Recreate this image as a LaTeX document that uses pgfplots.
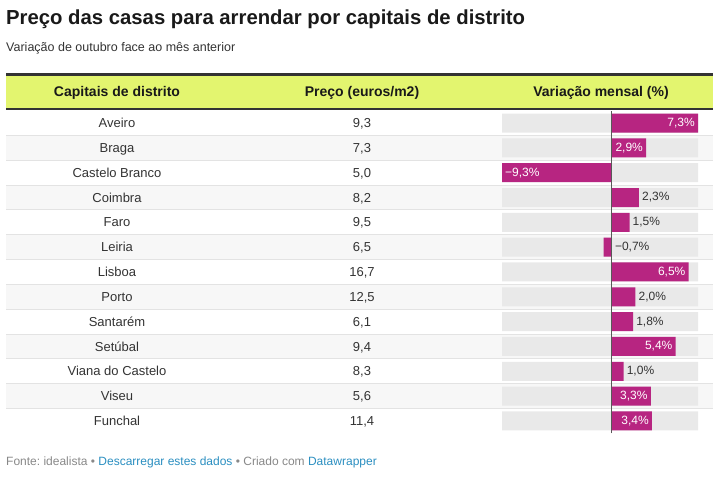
\documentclass[border=0pt]{standalone}
\usepackage{pgfplots}
\pgfplotsset{compat=1.18}
\usepackage{fontspec}
\setmainfont{Liberation Sans}
\frenchspacing
\definecolor{barc}{HTML}{B72581}
\definecolor{hdr}{HTML}{E3F56F}
\definecolor{rowg}{HTML}{F7F7F7}
\definecolor{sepc}{HTML}{E3E3E3}
\definecolor{bargray}{HTML}{E9E9E9}
\definecolor{txt}{HTML}{333333}
\definecolor{foot}{HTML}{888888}
\definecolor{link}{HTML}{2A8EC0}
\definecolor{rule}{HTML}{333333}
\pgfplotstableread{
y v
13 7.3
12 2.9
11 -9.3
10 2.3
9 1.5
8 -0.7
7 6.5
6 2.0
5 1.8
4 5.4
3 1.0
2 3.3
1 3.4
}\vardata
\begin{document}
\begin{tikzpicture}[x=1pt,y=1pt,
  lin/.style={font=\fontsize{12}{14}\selectfont, text=white, inner sep=0pt},
  lout/.style={font=\fontsize{12}{14}\selectfont, text=txt, inner sep=0pt}]
\useasboundingbox (0,0) rectangle (719,476);
% title
\node[anchor=base west,inner sep=0pt] at (6,{476-25}) {\fontsize{20.3}{24}\selectfont\bfseries\color{black!90}Preço das casas para arrendar por capitais de distrito};
\node[anchor=base west,inner sep=0pt] at (6,{476-52}) {\fontsize{12.5}{15}\selectfont\color{txt}Variação de outubro face ao mês anterior};
% header
\fill[hdr] (6,{476-75}) rectangle (713,{476-109});
\draw[rule,line width=3pt] (6,{476-75}) -- (713,{476-75});
\draw[rule,line width=2pt] (6,{476-109.5}) -- (713,{476-109.5});
\node[anchor=base,inner sep=0pt] at (117,{476-97}) {\fontsize{14}{16}\selectfont\bfseries\color{black!90}Capitais de distrito};
\node[anchor=base,inner sep=0pt] at (362,{476-97}) {\fontsize{14}{16}\selectfont\bfseries\color{black!90}Preço (euros/m2)};
\node[anchor=base,inner sep=0pt] at (601,{476-97}) {\fontsize{14}{16}\selectfont\bfseries\color{black!90}Variação mensal (\%)};
% row backgrounds
\foreach \i in {1,3,5,7,9,11}
  \fill[rowg] (6,{476-110.6-24.83*\i}) rectangle (713,{476-110.6-24.83*(\i+1)});
\foreach \i in {1,...,12}
  \draw[sepc,line width=1pt] (6,{476-110.6-24.83*\i}) -- (713,{476-110.6-24.83*\i});
% row text
\foreach \c/\p [count=\i from 0] in {Aveiro/9{,}3,Braga/7{,}3,Castelo Branco/5{,}0,Coimbra/8{,}2,Faro/9{,}5,Leiria/6{,}5,Lisboa/16{,}7,Porto/12{,}5,Santarém/6{,}1,Setúbal/9{,}4,Viana do Castelo/8{,}3,Viseu/5{,}6,Funchal/11{,}4}{
  \node[anchor=base,inner sep=0pt] at (117,{476-127.6-24.83*\i}) {\fontsize{13}{15}\selectfont\color{txt}\c};
  \node[anchor=base,inner sep=0pt] at (362,{476-127.6-24.83*\i}) {\fontsize{13}{15}\selectfont\color{txt}\p};
}
% footer
\node[anchor=base west,inner sep=0pt] at (6,{476-465}) {\fontsize{12}{14}\selectfont\color{foot}Fonte: idealista • \color{link}Descarregar estes dados \color{foot}• Criado com \color{link}Datawrapper};
\begin{axis}[at={(502pt,42.6pt)}, anchor=south west, scale only axis,
  width=196pt, height=322.8pt, xmin=-9.3, xmax=7.3, ymin=0.5, ymax=13.5,
  hide axis, xbar, bar width=19pt, clip=false]
\addplot[fill=bargray, draw=none, bar shift=0pt] coordinates {(7.3,1) (7.3,2) (7.3,3) (7.3,4) (7.3,5) (7.3,6) (7.3,7) (7.3,8) (7.3,9) (7.3,10) (7.3,11) (7.3,12) (7.3,13)};
\addplot[fill=bargray, draw=none, bar shift=0pt] coordinates {(-9.3,1) (-9.3,2) (-9.3,3) (-9.3,4) (-9.3,5) (-9.3,6) (-9.3,7) (-9.3,8) (-9.3,9) (-9.3,10) (-9.3,11) (-9.3,12) (-9.3,13)};
\addplot[fill=barc, draw=none, bar shift=0pt] table[x=v,y=y] {\vardata};
\draw[black!65, line width=1.3pt] (axis cs:0,0.5) -- (axis cs:0,13.5);
\node[lin, anchor=east] at ([xshift=-3pt]axis cs:7.3,13) {7,3\%};
\node[lin, anchor=east] at ([xshift=-3pt]axis cs:2.9,12) {2,9\%};
\node[lin, anchor=west] at ([xshift=3pt]axis cs:-9.3,11) {−9,3\%};
\node[lout, anchor=west] at ([xshift=3pt]axis cs:2.3,10) {2,3\%};
\node[lout, anchor=west] at ([xshift=3pt]axis cs:1.5,9) {1,5\%};
\node[lout, anchor=west] at ([xshift=3pt]axis cs:0,8) {−0,7\%};
\node[lin, anchor=east] at ([xshift=-3pt]axis cs:6.5,7) {6,5\%};
\node[lout, anchor=west] at ([xshift=3pt]axis cs:2.0,6) {2,0\%};
\node[lout, anchor=west] at ([xshift=3pt]axis cs:1.8,5) {1,8\%};
\node[lin, anchor=east] at ([xshift=-3pt]axis cs:5.4,4) {5,4\%};
\node[lout, anchor=west] at ([xshift=3pt]axis cs:1.0,3) {1,0\%};
\node[lin, anchor=east] at ([xshift=-3pt]axis cs:3.3,2) {3,3\%};
\node[lin, anchor=east] at ([xshift=-3pt]axis cs:3.4,1) {3,4\%};
\end{axis}
\end{tikzpicture}
\end{document}
